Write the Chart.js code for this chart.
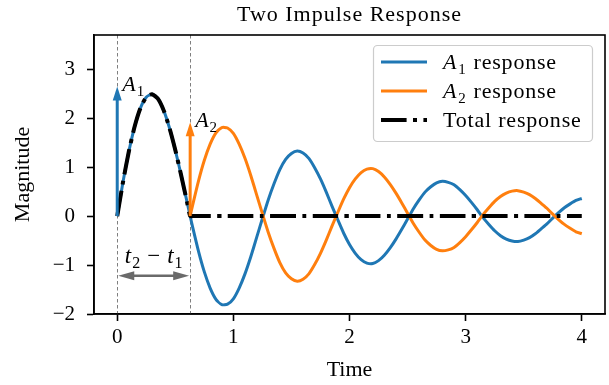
<!DOCTYPE html>
<html><head><meta charset="utf-8">
<script src="https://cdn.jsdelivr.net/npm/chart.js@4.4.1/dist/chart.umd.min.js"></script>
<style>html,body{margin:0;padding:0;background:#fff;}#wrap{width:609px;height:385px;position:relative;}</style>
</head><body><div id="wrap"><canvas id="c"></canvas></div>
<script>
const time = [0, 0.05, 0.1, 0.15, 0.2, 0.25, 0.3, 0.35, 0.4, 0.45, 0.5, 0.55, 0.6, 0.628, 0.65, 0.7, 0.75, 0.8, 0.85, 0.9, 0.95, 1.0, 1.05, 1.1, 1.15, 1.2, 1.25, 1.3, 1.35, 1.4, 1.45, 1.5, 1.55, 1.6, 1.65, 1.7, 1.75, 1.8, 1.85, 1.9, 1.95, 2.0, 2.05, 2.1, 2.15, 2.2, 2.25, 2.3, 2.35, 2.4, 2.45, 2.5, 2.55, 2.6, 2.65, 2.7, 2.75, 2.8, 2.85, 2.9, 2.95, 3.0, 3.05, 3.1, 3.15, 3.2, 3.25, 3.3, 3.35, 3.4, 3.45, 3.5, 3.55, 3.6, 3.65, 3.7, 3.75, 3.8, 3.85, 3.9, 3.95, 4.0];
const a1Response = [0, 0.70, 1.32, 1.83, 2.21, 2.43, 2.49, 2.40, 2.16, 1.80, 1.35, 0.84, 0.30, 0, -0.23, -0.72, -1.14, -1.47, -1.70, -1.81, -1.80, -1.69, -1.47, -1.18, -0.83, -0.44, -0.05, 0.33, 0.66, 0.95, 1.16, 1.28, 1.33, 1.29, 1.18, 0.99, 0.76, 0.49, 0.20, -0.08, -0.35, -0.58, -0.76, -0.89, -0.96, -0.97, -0.91, -0.80, -0.65, -0.47, -0.27, -0.06, 0.15, 0.33, 0.49, 0.60, 0.68, 0.71, 0.69, 0.64, 0.54, 0.42, 0.28, 0.13, -0.03, -0.17, -0.30, -0.40, -0.47, -0.51, -0.52, -0.49, -0.44, -0.36, -0.26, -0.16, -0.04, 0.07, 0.17, 0.25, 0.32, 0.36];
const a2Response = [null, null, null, null, null, null, null, null, null, null, null, null, null, 0, 0.23, 0.72, 1.14, 1.47, 1.70, 1.81, 1.80, 1.69, 1.47, 1.18, 0.83, 0.44, 0.05, -0.33, -0.66, -0.95, -1.16, -1.28, -1.33, -1.29, -1.18, -0.99, -0.76, -0.49, -0.20, 0.08, 0.35, 0.58, 0.76, 0.89, 0.96, 0.97, 0.91, 0.80, 0.65, 0.47, 0.27, 0.06, -0.15, -0.33, -0.49, -0.60, -0.68, -0.71, -0.69, -0.64, -0.54, -0.42, -0.28, -0.13, 0.03, 0.17, 0.30, 0.40, 0.47, 0.51, 0.52, 0.49, 0.44, 0.36, 0.26, 0.16, 0.04, -0.07, -0.17, -0.25, -0.32, -0.36];
const totalResponse = [0, 0.70, 1.32, 1.83, 2.21, 2.43, 2.49, 2.40, 2.16, 1.80, 1.35, 0.84, 0.30, 0, 0, 0, 0, 0, 0, 0, 0, 0, 0, 0, 0, 0, 0, 0, 0, 0, 0, 0, 0, 0, 0, 0, 0, 0, 0, 0, 0, 0, 0, 0, 0, 0, 0, 0, 0, 0, 0, 0, 0, 0, 0, 0, 0, 0, 0, 0, 0, 0, 0, 0, 0, 0, 0, 0, 0, 0, 0, 0, 0, 0, 0, 0, 0, 0, 0, 0, 0, 0];
const xTicks = [0, 1, 2, 3, 4];
const yTicks = [-2, -1, 0, 1, 2, 3];
const impulseTimes = [0, 0.628];
const impulseAmps = [2.65, 1.92];
const gapArrowLevel = -1.22;
const chartTitle = 'Two Impulse Response';

const SERIF = "'Liberation Serif', 'DejaVu Serif', serif";
const BLUE = '#1f77b4', ORANGE = '#ff7f0e';
const DASHDOT = [25.6, 6.4, 4, 6.4];
const fmt = v => v < 0 ? '\u2212' + Math.abs(v) : String(v);

function pts(arr) { return time.map((t, i) => ({x: t, y: arr[i]})); }

function arrowHead(ctx, tx, ty, dx, dy, len, w) {
  const bx = tx - dx * len, by = ty - dy * len;
  const nx = -dy, ny = dx;
  ctx.beginPath();
  ctx.moveTo(tx, ty);
  ctx.lineTo(bx + nx * w / 2, by + ny * w / 2);
  ctx.lineTo(bx - nx * w / 2, by - ny * w / 2);
  ctx.closePath();
  ctx.fill();
}

// parts: [text, kind, extraGapAfter] kind: 'i' italic, 's' subscript, 'r' roman
function mathLabel(ctx, parts, x, y, size, align, spacing) {
  const fonts = {i: `italic ${size}px ${SERIF}`, r: `${size}px ${SERIF}`, s: `${Math.round(size * 0.7)}px ${SERIF}`};
  ctx.letterSpacing = (spacing || 0) + 'px';
  let w = 0;
  for (const [t, k, g] of parts) { ctx.font = fonts[k]; w += ctx.measureText(t).width + (g || 0); }
  let cx = align === 'center' ? x - w / 2 : x;
  ctx.textBaseline = 'alphabetic'; ctx.textAlign = 'left';
  for (const [t, k, g] of parts) {
    ctx.font = fonts[k];
    ctx.fillText(t, cx, k === 's' ? y + size * 0.22 : y);
    cx += ctx.measureText(t).width + (g || 0);
  }
  ctx.letterSpacing = '0px';
}

const overlay = {
  id: 'overlay',
  beforeDatasetsDraw(chart) {
    const {ctx, chartArea: a, scales: {x}} = chart;
    ctx.save();
    ctx.strokeStyle = '#7f7f7f'; ctx.lineWidth = 1; ctx.setLineDash([3.5, 2.5]);
    for (const t of impulseTimes) {
      const px = Math.round(x.getPixelForValue(t)) + 0.5;
      ctx.beginPath(); ctx.moveTo(px, a.top); ctx.lineTo(px, a.bottom); ctx.stroke();
    }
    ctx.restore();
  },
  afterDatasetsDraw(chart) {
    const {ctx, chartArea: a, scales: {x, y}} = chart;
    ctx.save();
    // title
    ctx.fillStyle = '#000';
    ctx.font = `22px ${SERIF}`; ctx.letterSpacing = '1px';
    ctx.textAlign = 'center'; ctx.textBaseline = 'middle';
    ctx.fillText(chartTitle, (a.left + a.right) / 2, 15);
    ctx.letterSpacing = '0px';
    // impulse arrows
    const cols = [BLUE, ORANGE];
    impulseTimes.forEach((t, i) => {
      const px = x.getPixelForValue(t), p0 = y.getPixelForValue(0), p1 = y.getPixelForValue(impulseAmps[i]);
      ctx.strokeStyle = cols[i]; ctx.fillStyle = cols[i]; ctx.lineWidth = 3; ctx.setLineDash([]);
      ctx.beginPath(); ctx.moveTo(px, p0); ctx.lineTo(px, p1 + 12); ctx.stroke();
      arrowHead(ctx, px, p1, 0, -1, 14, 9);
      ctx.fillStyle = '#000';
      mathLabel(ctx, [['A', 'i', 1], [String(i + 1), 's']], px + 5, p1 + 5, 22, 'left', 0);
    });
    // gap arrow
    const xa = x.getPixelForValue(impulseTimes[0]), xb = x.getPixelForValue(impulseTimes[1]);
    const ya = y.getPixelForValue(gapArrowLevel);
    ctx.strokeStyle = '#6a6a6a'; ctx.fillStyle = '#6a6a6a'; ctx.lineWidth = 2.5;
    ctx.beginPath(); ctx.moveTo(xa + 12, ya); ctx.lineTo(xb - 12, ya); ctx.stroke();
    arrowHead(ctx, xa + 1, ya, -1, 0, 16, 9);
    arrowHead(ctx, xb - 1, ya, 1, 0, 16, 9);
    ctx.fillStyle = '#000';
    mathLabel(ctx, [['t', 'i', 1], ['2', 's', 7], ['\u2212', 'r', 7], ['t', 'i', 1], ['1', 's']], (xa + xb) / 2, ya - 13, 23, 'center', 0);
    // frame
    ctx.strokeStyle = '#000'; ctx.lineWidth = 1.6;
    ctx.strokeRect(a.left, a.top, a.right - a.left, a.bottom - a.top);
    // legend
    const L = {x: 373, y: 45, w: 219, h: 96, r: 4};
    ctx.beginPath();
    ctx.roundRect(L.x + 0.5, L.y + 0.5, L.w, L.h, L.r);
    ctx.fillStyle = 'rgba(255,255,255,0.8)'; ctx.fill();
    ctx.strokeStyle = '#cccccc'; ctx.lineWidth = 1.2; ctx.stroke();
    const rows = [62, 91, 120];
    const styles = [[BLUE, 3, []], [ORANGE, 3, []], ['#000', 4, DASHDOT]];
    const labels = [[['A', 'i', 1], ['1', 's', 7], ['response', 'r']], [['A', 'i', 1], ['2', 's', 7], ['response', 'r']], [['Total response', 'r']]];
    rows.forEach((ry, i) => {
      const [c, lw, d] = styles[i];
      ctx.strokeStyle = c; ctx.lineWidth = lw; ctx.setLineDash(d); ctx.lineCap = 'butt';
      ctx.beginPath(); ctx.moveTo(381, ry); ctx.lineTo(427, ry); ctx.stroke();
      ctx.setLineDash([]);
      ctx.fillStyle = '#000';
      mathLabel(ctx, labels[i], 443, ry + 7, 22, 'left', 0.8);
    });
    ctx.restore();
  }
};

new Chart(document.getElementById('c'), {
  type: 'line',
  data: {
    datasets: [
      {label: 'A1 response', data: pts(a1Response), borderColor: BLUE, borderWidth: 3, order: 3},
      {label: 'A2 response', data: pts(a2Response), borderColor: ORANGE, borderWidth: 3, order: 2},
      {label: 'Total response', data: pts(totalResponse), borderColor: '#000', borderWidth: 4, borderDash: DASHDOT, order: 1}
    ]
  },
  options: {
    responsive: true, maintainAspectRatio: false, devicePixelRatio: 1, animation: false,
    layout: {padding: {left: 0, right: 4, top: 35, bottom: 0}},
    elements: {point: {radius: 0}, line: {tension: 0.2, fill: false, borderJoinStyle: 'round'}},
    plugins: {legend: {display: false}, tooltip: {enabled: false}, title: {display: false}},
    scales: {
      x: {
        type: 'linear', min: -0.2, max: 4.2,
        afterBuildTicks: s => { s.ticks = xTicks.map(v => ({value: v})); },
        afterFit: s => { s.height = 71; },
        ticks: {color: '#000', font: {family: SERIF, size: 21}, padding: 4, maxRotation: 0, callback: v => fmt(v)},
        grid: {display: true, drawOnChartArea: false, drawTicks: true, tickLength: 7, tickWidth: 1.6, tickColor: '#000'},
        border: {display: true, color: '#000', width: 1.6},
        title: {display: true, text: 'Time', color: '#000', font: {family: SERIF, size: 22}, padding: {top: 0, bottom: 2}}
      },
      y: {
        type: 'linear', min: -2, max: 3.7,
        afterBuildTicks: s => { s.ticks = yTicks.map(v => ({value: v})); },
        afterFit: s => { s.width = 94; },
        ticks: {color: '#000', font: {family: SERIF, size: 21}, padding: 12, callback: v => fmt(v)},
        grid: {display: true, drawOnChartArea: false, drawTicks: true, tickLength: 7, tickWidth: 1.6, tickColor: '#000'},
        border: {display: true, color: '#000', width: 1.6},
        title: {display: true, text: 'Magnitude', color: '#000', font: {family: SERIF, size: 22}, padding: {top: 10, bottom: 0}}
      }
    }
  },
  plugins: [overlay]
});
</script></body></html>
